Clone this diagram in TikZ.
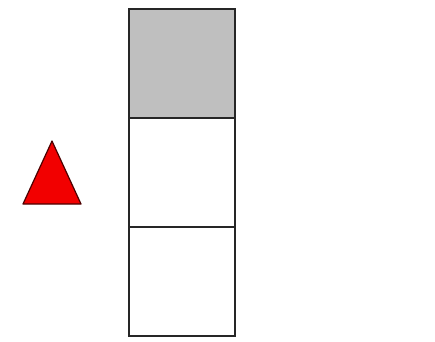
\documentclass[tikz,border=0pt]{standalone}
\begin{document}
\begin{tikzpicture}[x=1pt,y=-1pt,
  cell/.style={draw=black!85,line width=2pt,minimum width=106pt,minimum height=109pt,inner sep=0pt,outer sep=0pt,anchor=north west},
  tri/.style={draw=black!70!red,fill=red!95!black,line width=1.2pt,line join=round}]
\useasboundingbox (0,0) rectangle (435,341);
\node[cell,fill=black!25] (c1) at (129,9) {};
\node[cell] (c2) at (c1.south west) {};
\node[cell] (c3) at (c2.south west) {};
\coordinate (ta) at (52,141);
\coordinate (tb) at (23,204);
\coordinate (tc) at (81,204);
\draw[tri] (ta) -- (tb) -- (tc) -- cycle;
\end{tikzpicture}
\end{document}
